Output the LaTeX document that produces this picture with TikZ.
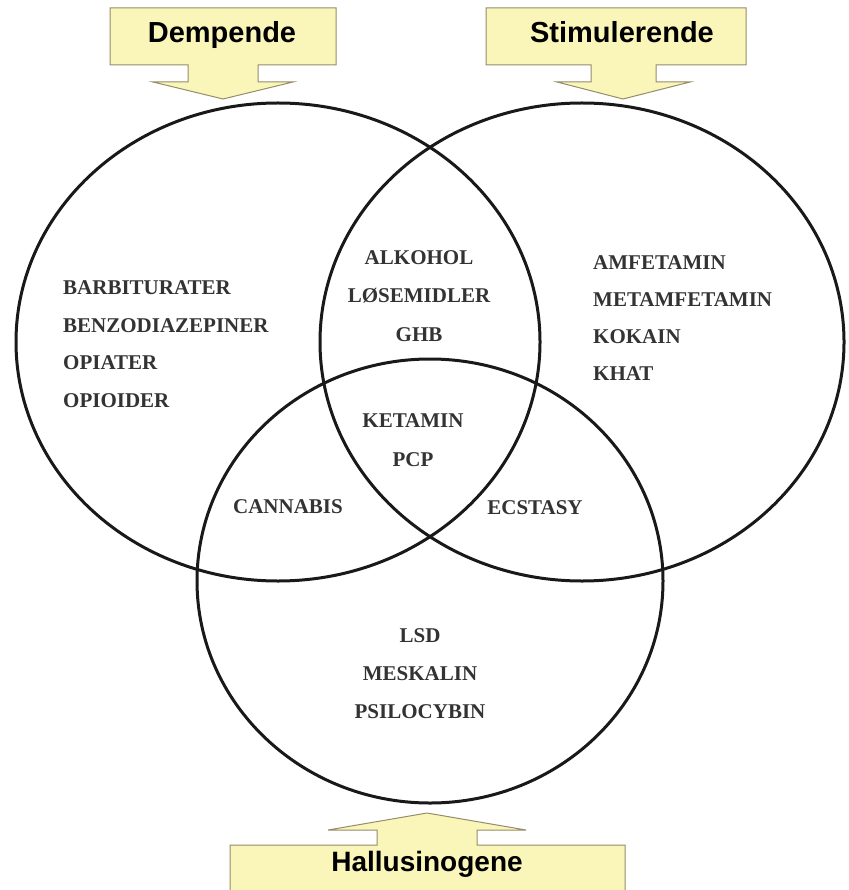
\documentclass[tikz,border=0pt]{standalone}
\usepackage{fontspec}
\setmainfont{Liberation Serif}
\newfontfamily\calloutfont{Liberation Sans}
\begin{document}
\begin{tikzpicture}[
  x=1pt, y=-1pt,
  ring/.style={line width=3pt, black!90},
  callout/.style={fill={rgb,255:red,250;green,246;blue,186}, draw={rgb,255:red,150;green,140;blue,105}, line width=1pt},
  head/.style={font=\calloutfont\bfseries\fontsize{29}{32}\selectfont, anchor=base, inner sep=0pt},
  drug/.style={font=\bfseries\fontsize{21}{24}\selectfont, text=black!80, inner sep=0pt},
  lst/.style={drug, anchor=west}
]
\useasboundingbox [fill=white] (0,0) rectangle (848,890);

% the three groups
\draw [ring] (278,342) ellipse [x radius=262pt, y radius=239pt];
\draw [ring] (582,342) ellipse [x radius=262pt, y radius=239pt];
\draw [ring] (430,581) ellipse [x radius=233pt, y radius=222pt];

% callouts
\draw [callout] (110,8) -- (336,8) -- (336,65) -- (258,65) -- (258,82) -- (293,82) -- (223,99)
  -- (153,82) -- (188,82) -- (188,65) -- (110,65) -- cycle;
\node [head] (dep) at (222,43) {Dempende};

\draw [callout] (486,8) -- (746,8) -- (746,65) -- (656,65) -- (656,82) -- (690,82) -- (623,99)
  -- (557,82) -- (591,82) -- (591,65) -- (486,65) -- cycle;
\node [head] (stim) at (622,43) {Stimulerende};

\draw [callout] (230,895) -- (230,845) -- (377,845) -- (377,830) -- (328,830) -- (427,813)
  -- (526,830) -- (477,830) -- (477,845) -- (625,845) -- (625,895);
\node [head, font=\calloutfont\bfseries\fontsize{28}{30}\selectfont] (hall) at (427,871) {Hallusinogene};

% substances
\foreach \t [count=\i] in {BARBITURATER, BENZODIAZEPINER, OPIATER, OPIOIDER}
  \node [lst] (dep\i) at (63,250.5+37.5*\i) {\t};
\foreach \t [count=\i] in {AMFETAMIN, METAMFETAMIN, KOKAIN, KHAT}
  \node [lst] (stim\i) at (593,226+37*\i) {\t};
\foreach \t [count=\i] in {ALKOHOL, LØSEMIDLER, GHB}
  \node [drug] (ds\i) at (419,219+38.5*\i) {\t};
\foreach \t [count=\i] in {KETAMIN, PCP}
  \node [drug] (dsh\i) at (413,382+39*\i) {\t};
\node [drug] (dh) at (288,507) {CANNABIS};
\node [drug] (sh) at (535,508) {ECSTASY};
\foreach \t [count=\i] in {LSD, MESKALIN, PSILOCYBIN}
  \node [drug] (hall\i) at (420,598+38*\i) {\t};
\end{tikzpicture}
\end{document}
